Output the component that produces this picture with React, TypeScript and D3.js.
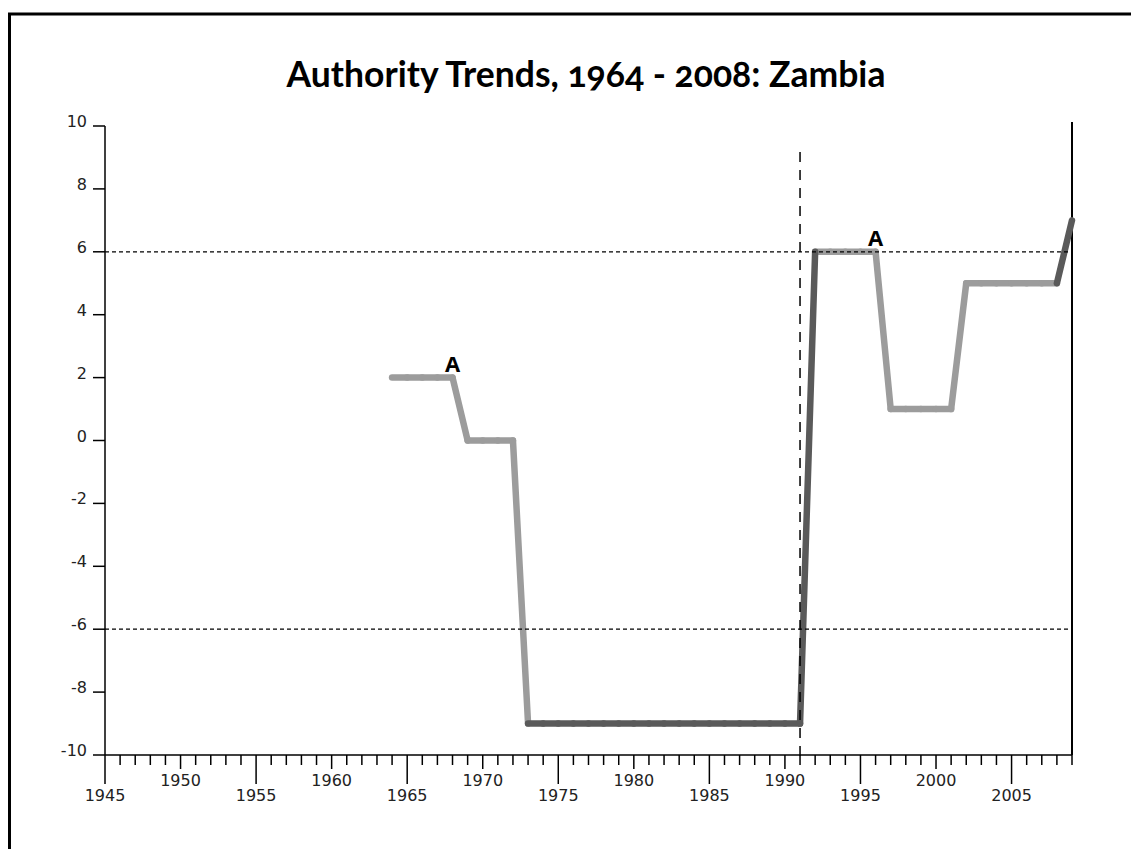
import React, { useEffect, useRef } from 'react';
import * as d3 from 'd3';

// Zambia authority score
const years = [
  1964, 1965, 1966, 1967, 1968, 1969, 1970, 1971, 1972, 1973, 1974, 1975, 1976, 1977, 1978,
  1979, 1980, 1981, 1982, 1983, 1984, 1985, 1986, 1987, 1988, 1989, 1990, 1991, 1992, 1993,
  1994, 1995, 1996, 1997, 1998, 1999, 2000, 2001, 2002, 2003, 2004, 2005, 2006, 2007, 2008, 2009,
];
const authority = [
  2, 2, 2, 2, 2, 0, 0, 0, 0, -9, -9, -9, -9, -9, -9,
  -9, -9, -9, -9, -9, -9, -9, -9, -9, -9, -9, -9, -9, 6, 6,
  6, 6, 6, 1, 1, 1, 1, 1, 5, 5, 5, 5, 5, 5, 5, 7,
];
// segments starting in these spans are drawn dark
const darkSpans = [[1973, 1991], [2008, 2008]];
// "A" markers
const markerYears = [1968, 1996];
const markerText = ['A', 'A'];
const yTicks = [-10, -8, -6, -4, -2, 0, 2, 4, 6, 8, 10];
const refLevels = [6, -6];
const eventYear = 1991;
const title = 'Authority Trends, 1964 - 2008: Zambia';

function App() {
  const ref = useRef(null);

  useEffect(() => {
    drawChart();
  }, []);

  function drawChart() {
    const svg = d3.select(ref.current);
    svg.selectAll('*').remove();

    const x = d3.scaleLinear().domain([1945, 2009]).range([105, 1072]);
    const y = d3.scaleLinear().domain([-10, 10]).range([755, 126]);
    const tickFont = "'DejaVu Sans', sans-serif";

    // frame
    svg.append('rect')
      .attr('x', 9.5).attr('y', 14)
      .attr('width', 1300).attr('height', 1000)
      .attr('fill', 'none').attr('stroke', '#000').attr('stroke-width', 3);

    svg.append('text')
      .attr('x', 586).attr('y', 87)
      .attr('text-anchor', 'middle')
      .style('font-family', "Lato, 'Open Sans', sans-serif")
      .style('font-weight', 700)
      .style('font-size', '35.5px')
      .style('font-variant-numeric', 'oldstyle-nums')
      .text(title);

    // y axis
    const yAxis = svg.append('g');
    yAxis.append('line')
      .attr('x1', x(1945)).attr('x2', x(1945))
      .attr('y1', y(10)).attr('y2', y(-10))
      .attr('stroke', '#000').attr('stroke-width', 1.5);
    yTicks.forEach(v => {
      yAxis.append('line')
        .attr('x1', x(1945) - 12).attr('x2', x(1945))
        .attr('y1', y(v)).attr('y2', y(v))
        .attr('stroke', '#000').attr('stroke-width', 1.5);
      yAxis.append('text')
        .attr('x', x(1945) - 18).attr('y', y(v) + 1)
        .attr('text-anchor', 'end')
        .style('font-family', tickFont)
        .style('font-size', '16px')
        .attr('fill', '#222')
        .text(v);
    });

    // x axis
    const xAxis = svg.append('g');
    xAxis.append('line')
      .attr('x1', x(1945)).attr('x2', x(2009))
      .attr('y1', y(-10)).attr('y2', y(-10))
      .attr('stroke', '#000').attr('stroke-width', 1.5);
    d3.range(1945, 2010).forEach(yr => {
      const k = yr - 1945;
      const len = k % 10 === 0 ? 29 : k % 5 === 0 ? 14 : 10;
      xAxis.append('line')
        .attr('x1', x(yr)).attr('x2', x(yr))
        .attr('y1', y(-10)).attr('y2', y(-10) + len)
        .attr('stroke', '#000').attr('stroke-width', 1.5);
      if (k % 5 === 0) {
        xAxis.append('text')
          .attr('x', x(yr)).attr('y', k % 10 === 0 ? 801 : 786)
          .attr('text-anchor', 'middle')
          .style('font-family', tickFont)
          .style('font-size', '16px')
          .attr('fill', '#222')
          .text(yr);
      }
    });

    // right border line
    svg.append('line')
      .attr('x1', x(2009)).attr('x2', x(2009))
      .attr('y1', 122).attr('y2', y(-10))
      .attr('stroke', '#000').attr('stroke-width', 2);

    // data segments
    const pts = years.map((yr, i) => ({ yr, v: authority[i] }));
    const isDark = yr => darkSpans.some(s => yr >= s[0] && yr <= s[1]);
    const segs = d3.pairs(pts).map(p => ({ a: p[0], b: p[1], dark: isDark(p[0].yr) }));
    const segG = svg.append('g');
    [false, true].forEach(dk => {
      segG.selectAll(null)
        .data(segs.filter(s => s.dark === dk))
        .join('line')
        .attr('x1', s => x(s.a.yr)).attr('y1', s => y(s.a.v))
        .attr('x2', s => x(s.b.yr)).attr('y2', s => y(s.b.v))
        .attr('stroke', dk ? '#5a5a5a' : '#9c9c9c')
        .attr('stroke-width', 6.5)
        .attr('stroke-linecap', 'round');
    });

    // reference levels
    refLevels.forEach(v => {
      svg.append('line')
        .attr('x1', x(1945)).attr('x2', x(2009))
        .attr('y1', y(v)).attr('y2', y(v))
        .attr('stroke', '#000').attr('stroke-width', 1.3)
        .attr('stroke-dasharray', '4,3');
    });

    svg.append('line')
      .attr('x1', x(eventYear)).attr('x2', x(eventYear))
      .attr('y1', 152).attr('y2', y(-10) + 8)
      .attr('stroke', '#000').attr('stroke-width', 1.5)
      .attr('stroke-dasharray', '10,8');

    // markers
    markerYears.forEach((yr, i) => {
      const v = authority[years.indexOf(yr)];
      svg.append('text')
        .attr('x', x(yr)).attr('y', y(v) - 6)
        .attr('text-anchor', 'middle')
        .style('font-family', "'Open Sans', sans-serif")
        .style('font-weight', 700)
        .style('font-size', '22px')
        .text(markerText[i]);
    });
  }

  return (
    <svg ref={ref} width={1131} height={849}
      style={{ position: 'absolute', left: 0, top: 0, background: '#fff' }} />
  );
}

export default App;
